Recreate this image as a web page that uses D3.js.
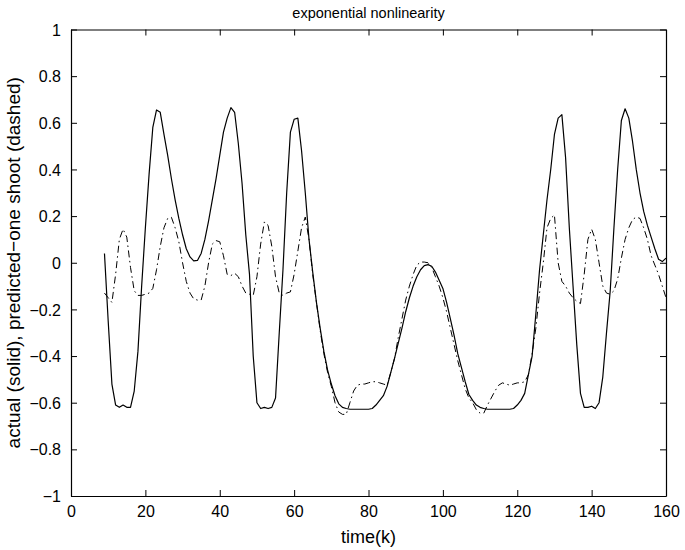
<!DOCTYPE html>
<html><head><meta charset="utf-8">
<script src="https://cdn.jsdelivr.net/npm/d3@7"></script>
<style>body{margin:0;background:#fff}svg{display:block}text{font-family:"Liberation Sans",Arial,Helvetica,sans-serif}</style>
</head><body><div id="chart"></div>
<script>
const chartTitle = "exponential nonlinearity";
const xLabel = "time(k)";
const yLabel = "actual (solid), predicted\u2212one shoot (dashed)";
const xTicks = [0,20,40,60,80,100,120,140,160];
const yTicks = [-1,-0.8,-0.6,-0.4,-0.2,0,0.2,0.4,0.6,0.8,1];
const kStart = 9;
const actual = [
 0.04,-0.25,-0.52,-0.61,-0.62,-0.61,-0.62,-0.62,-0.55,-0.38,
 -0.1,0.15,0.38,0.58,0.655,0.645,0.55,0.46,0.36,0.27,
 0.19,0.12,0.06,0.025,0.008,0.01,0.04,0.1,0.18,0.27,
 0.36,0.46,0.56,0.62,0.665,0.645,0.51,0.34,0.12,-0.05,
 -0.4,-0.6,-0.625,-0.62,-0.625,-0.62,-0.58,-0.3,-0.03,0.3,
 0.56,0.615,0.62,0.48,0.3,0.1,-0.04,-0.17,-0.28,-0.38,
 -0.46,-0.52,-0.57,-0.605,-0.62,-0.625,-0.628,-0.628,-0.628,-0.628,
 -0.628,-0.628,-0.625,-0.61,-0.59,-0.57,-0.53,-0.47,-0.41,-0.345,
 -0.28,-0.21,-0.15,-0.1,-0.06,-0.03,-0.012,-0.008,-0.015,-0.04,
 -0.075,-0.11,-0.17,-0.24,-0.31,-0.39,-0.45,-0.51,-0.565,-0.59,
 -0.61,-0.62,-0.625,-0.628,-0.628,-0.628,-0.628,-0.628,-0.628,-0.628,
 -0.625,-0.61,-0.59,-0.56,-0.48,-0.4,-0.22,-0.03,0.12,0.27,
 0.4,0.55,0.62,0.635,0.45,0.15,-0.1,-0.35,-0.56,-0.62,
 -0.62,-0.615,-0.625,-0.6,-0.49,-0.3,-0.12,0.15,0.4,0.61,
 0.66,0.62,0.52,0.4,0.3,0.22,0.16,0.11,0.06,0.015,
 0.005,0.02
];
const predicted = [
 -0.13,-0.15,-0.17,-0.05,0.1,0.144,0.11,-0.02,-0.12,-0.14,
 -0.14,-0.135,-0.13,-0.11,-0.03,0.07,0.15,0.19,0.195,0.15,
 0.09,0.0,-0.08,-0.13,-0.155,-0.16,-0.16,-0.1,0.0,0.08,
 0.095,0.09,0.03,-0.05,-0.055,-0.045,-0.06,-0.1,-0.13,-0.135,
 -0.14,-0.06,0.08,0.175,0.16,0.07,-0.06,-0.13,-0.14,-0.13,
 -0.125,-0.05,0.05,0.15,0.196,0.1,-0.05,-0.17,-0.29,-0.39,
 -0.47,-0.53,-0.6,-0.64,-0.65,-0.65,-0.6,-0.55,-0.525,-0.52,
 -0.52,-0.515,-0.51,-0.51,-0.515,-0.52,-0.525,-0.47,-0.41,-0.32,
 -0.24,-0.16,-0.1,-0.05,-0.01,0.003,0.003,0.0,-0.02,-0.06,
 -0.1,-0.15,-0.21,-0.28,-0.35,-0.42,-0.48,-0.54,-0.58,-0.6,
 -0.63,-0.645,-0.645,-0.61,-0.58,-0.55,-0.525,-0.515,-0.52,-0.525,
 -0.52,-0.515,-0.515,-0.51,-0.48,-0.39,-0.28,-0.13,0.0,0.15,
 0.19,0.205,0.0,-0.08,-0.1,-0.13,-0.15,-0.165,-0.175,-0.05,
 0.1,0.144,0.1,0.0,-0.1,-0.13,-0.135,-0.12,-0.07,0.02,
 0.1,0.15,0.185,0.196,0.19,0.15,0.1,0.03,-0.01,-0.05,
 -0.1,-0.15
];

const W = 685, H = 550;
const m = {left:71, right:685-666, top:29.5, bottom:550-496};
const svg = d3.select("#chart").append("svg").attr("width",W).attr("height",H);
const x = d3.scaleLinear().domain([0,160]).range([m.left, W-m.right]);
const y = d3.scaleLinear().domain([-1,1]).range([H-m.bottom, m.top]);
const fmt = v => (v<0 ? "\u2212" : "") + String(Math.abs(+v.toFixed(1)));

const tl = 6;
const gB = svg.append("g").attr("transform",`translate(0,${y(-1)})`)
  .call(d3.axisBottom(x).tickValues(xTicks).tickSizeInner(-tl).tickSizeOuter(0).tickPadding(10).tickFormat(d=>String(d)));
const gT = svg.append("g").attr("transform",`translate(0,${y(1)})`)
  .call(d3.axisTop(x).tickValues(xTicks).tickSizeInner(-tl).tickSizeOuter(0).tickFormat(""));
const gL = svg.append("g").attr("transform",`translate(${x(0)},0)`)
  .call(d3.axisLeft(y).tickValues(yTicks).tickSizeInner(-tl).tickSizeOuter(0).tickPadding(10).tickFormat(fmt));
const gR = svg.append("g").attr("transform",`translate(${x(160)},0)`)
  .call(d3.axisRight(y).tickValues(yTicks).tickSizeInner(-tl).tickSizeOuter(0).tickFormat(""));
[gB,gT,gL,gR].forEach(g=>{
  g.select(".domain").attr("stroke","#000").attr("stroke-width",1.2);
  g.selectAll(".tick line").attr("stroke","#000").attr("stroke-width",1);
  g.selectAll(".tick text").attr("fill","#000").style("font-size","16px");
});
gL.selectAll(".tick text").attr("dy","0.35em");

const line = d3.line().x((d,i)=>x(kStart+i)).y(d=>y(d));
svg.append("path").datum(predicted).attr("d",line).attr("fill","none")
  .attr("stroke","#000").attr("stroke-width",1).attr("stroke-dasharray","7,3.5,1.5,3.5");
svg.append("path").datum(actual).attr("d",line).attr("fill","none")
  .attr("stroke","#000").attr("stroke-width",1.2).attr("stroke-linejoin","round");

svg.append("text").attr("x",(x(0)+x(160))/2).attr("y",18).attr("text-anchor","middle")
  .style("font-size","14.5px").text(chartTitle);
svg.append("text").attr("x",(x(0)+x(160))/2).attr("y",543).attr("text-anchor","middle")
  .style("font-size","18px").text(xLabel);
svg.append("text").attr("transform",`translate(20,${(y(-1)+y(1))/2}) rotate(-90)`)
  .attr("text-anchor","middle").style("font-size","19px").text(yLabel);
</script></body></html>
